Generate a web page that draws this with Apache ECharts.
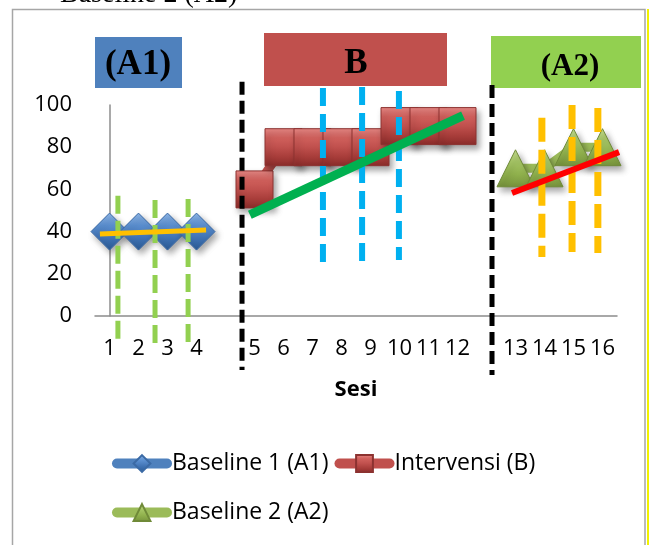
<!DOCTYPE html>
<html>
<head>
<meta charset="utf-8">
<script src="https://cdn.jsdelivr.net/npm/echarts@6/dist/echarts.min.js"></script>
<style>
  html, body { margin: 0; padding: 0; background: #fff; }
  #chart { width: 653px; height: 545px; }
</style>
</head>
<body>
<div id="chart"></div>
<script>
// Session labels (blank slots separate the phases)
const sessionLabels = ['1', '2', '3', '4', '', '5', '6', '7', '8', '9', '10', '11', '12', '', '13', '14', '15', '16'];

// Scores per phase
const baseline1 = [40, 40, 40, 40];                 // sessions 1-4
const intervensi = [60, 80, 80, 80, 80, 90, 90, 90]; // sessions 5-12
const baseline2 = [70, 70, 80, 80];                 // sessions 13-16

// First slot of each phase on the session axis
const baseline1Start = 0;
const intervensiStart = 5;
const baseline2Start = 14;

const seriesNames = ['Baseline 1 (A1)', 'Intervensi (B)', 'Baseline 2 (A2)'];
const phaseTitles = ['(A1)', 'B', '(A2)'];
const axisTitle = 'Sesi';
const yTicks = { min: 0, max: 100, step: 20 };

// Trend lines: [slot position, score] pairs
const trendA1 = [[-0.33, 38.9], [3.33, 40.8]];
const trendB = [[4.84, 48], [12.19, 95]];
const trendA2 = [[13.88, 58.3], [17.57, 77.7]];

// Phase-change lines: slot position, top score, bottom score
const phaseChangeLines = [[4.57, 111, -25.6], [13.19, 109.5, -28]];
// Stability band markers per phase: slot position, top score, bottom score
const bandA1 = [[0.29, 57, -14], [1.57, 55, -15], [2.71, 55.5, -13]];
const bandB = [[7.36, 108, 24.6], [8.71, 108.5, 24.6], [9.98, 106.6, 26.5]];
const bandA2 = [[14.91, 94, 28], [15.95, 100, 30.3], [16.84, 98.6, 29.9]];

const FONT = '"Open Sans", sans-serif';
const SERIF = '"Liberation Serif", "Times New Roman", serif';

function pad(values, start) {
  const out = sessionLabels.map(() => null);
  values.forEach((v, i) => { out[start + i] = v; });
  return out;
}

const grad = (stops) => new echarts.graphic.LinearGradient(0, 0, 0, 1,
  stops.map((c, i) => ({ offset: i / (stops.length - 1), color: c })));

const markerShadow = {
  shadowBlur: 6,
  shadowOffsetX: 3,
  shadowOffsetY: 4,
  shadowColor: 'rgba(0,0,0,0.35)'
};

function dataSeries(name, values, start, symbol, lineColor, fill, border) {
  return {
    name: name,
    type: 'line',
    data: pad(values, start),
    symbol: symbol,
    symbolSize: 37,
    showSymbol: true,
    connectNulls: false,
    animation: false,
    z: 3,
    lineStyle: { color: lineColor, width: 9, cap: 'round', join: 'round' },
    itemStyle: Object.assign({ color: fill, borderColor: border, borderWidth: 1, opacity: 1 }, markerShadow),
    emphasis: { disabled: true }
  };
}

function segment(points, color, width, dash, z) {
  return {
    type: 'line',
    xAxisIndex: 1,
    yAxisIndex: 0,
    data: points,
    symbol: 'none',
    silent: true,
    clip: false,
    animation: false,
    z: z,
    lineStyle: { color: color, width: width, type: dash || 'solid', cap: 'butt' },
    emphasis: { disabled: true }
  };
}

function vertical(list, color, width, dash) {
  return list.map(([x, top, bottom]) => segment([[x, top], [x, bottom]], color, width, dash, 6));
}

const series = [
  dataSeries(seriesNames[0], baseline1, baseline1Start, 'diamond', '#4F81BD',
    grad(['#8fb6e6', '#5b8fd0', '#3f72b3', '#2b5a94']), '#3b6aa5'),
  dataSeries(seriesNames[1], intervensi, intervensiStart, 'rect', '#C0504D',
    grad(['#e88986', '#d0605c', '#c0504d', '#a83d3a', '#8a2c2a']), '#8c3230'),
  dataSeries(seriesNames[2], baseline2, baseline2Start, 'triangle', '#9BBB59',
    grad(['#c3da8e', '#a6c665', '#8fb04c', '#76923c']), '#6f8a38'),
  segment(trendA1, '#FFC000', 5, 'solid', 7),
  segment(trendB, '#00B050', 9, 'solid', 7),
  segment(trendA2, '#FF0000', 6, 'solid', 7),
  ...vertical(phaseChangeLines, '#000000', 5, [13, 6]),
  ...vertical(bandA1, '#92D050', 5, [18, 7]),
  ...vertical(bandB, '#00B0F0', 6, [18, 8]),
  ...vertical(bandA2, '#FFC000', 7, [24, 8])
];

const legendCommon = {
  orient: 'horizontal',
  left: 112,
  padding: 0,
  itemWidth: 50,
  itemHeight: 21,
  itemGap: 6,
  selectedMode: false,
  textStyle: { fontFamily: FONT, fontSize: 23, color: '#000' },
  lineStyle: { width: 10, cap: 'round' }
};

const chart = echarts.init(document.getElementById('chart'), null, { renderer: 'canvas' });

chart.setOption({
  backgroundColor: '#ffffff',
  animation: false,
  grid: { left: 95, right: 36, top: 105, bottom: 229, containLabel: false },
  xAxis: [
    {
      type: 'category',
      data: sessionLabels,
      boundaryGap: true,
      axisLine: { lineStyle: { color: '#8c8c8c', width: 1.5 } },
      axisTick: { show: false },
      axisLabel: { interval: 0, margin: 22, fontFamily: FONT, fontSize: 22, color: '#000' },
      name: axisTitle,
      nameLocation: 'middle',
      nameGap: 63,
      nameTextStyle: { fontFamily: FONT, fontSize: 22, fontWeight: 'bold', color: '#000' }
    },
    { type: 'value', min: -0.5, max: 17.5, show: false }
  ],
  yAxis: {
    type: 'value',
    min: yTicks.min,
    max: yTicks.max,
    interval: yTicks.step,
    axisLine: { show: true, lineStyle: { color: '#8c8c8c', width: 1.5 } },
    axisTick: { show: false },
    splitLine: { show: false },
    axisLabel: { margin: 23, fontFamily: FONT, fontSize: 22, color: '#000' }
  },
  legend: [
    Object.assign({ data: [seriesNames[0], seriesNames[1]], top: 452 }, legendCommon),
    Object.assign({ data: [seriesNames[2]], top: 501 }, legendCommon)
  ],
  series: series,
  graphic: [
    { type: 'rect', silent: true, z: 0,
      shape: { x: 12.5, y: 9.5, width: 632.5, height: 560 },
      style: { fill: null, stroke: '#a6a6a6', lineWidth: 1.5 } },
    { type: 'line', silent: true, z: 0,
      shape: { x1: 648, y1: 9, x2: 648, y2: 545 },
      style: { stroke: '#f2f200', lineWidth: 2 } },
    { type: 'text', silent: true,
      style: { x: 60, y: -5.5, text: 'Baseline 2 (A2)', font: '28px ' + SERIF, fill: '#000', verticalAlign: 'middle' } },
    { type: 'rect', silent: true, z: 1,
      shape: { x: 95, y: 37, width: 87, height: 51 }, style: { fill: '#4F81BD' } },
    { type: 'text', silent: true, z: 2,
      style: { x: 138, y: 65, text: phaseTitles[0], font: 'bold 35px ' + SERIF, fill: '#000', align: 'center', verticalAlign: 'middle' } },
    { type: 'rect', silent: true, z: 1,
      shape: { x: 264, y: 33, width: 183, height: 53 }, style: { fill: '#C0504D' } },
    { type: 'text', silent: true, z: 2,
      style: { x: 356, y: 64, text: phaseTitles[1], font: 'bold 35px ' + SERIF, fill: '#000', align: 'center', verticalAlign: 'middle' } },
    { type: 'rect', silent: true, z: 1,
      shape: { x: 491, y: 36, width: 150, height: 52 }, style: { fill: '#92D050' } },
    { type: 'text', silent: true, z: 2,
      style: { x: 570, y: 67, text: phaseTitles[2], font: 'bold 31px ' + SERIF, fill: '#000', align: 'center', verticalAlign: 'middle' } }
  ]
});
</script>
</body>
</html>
